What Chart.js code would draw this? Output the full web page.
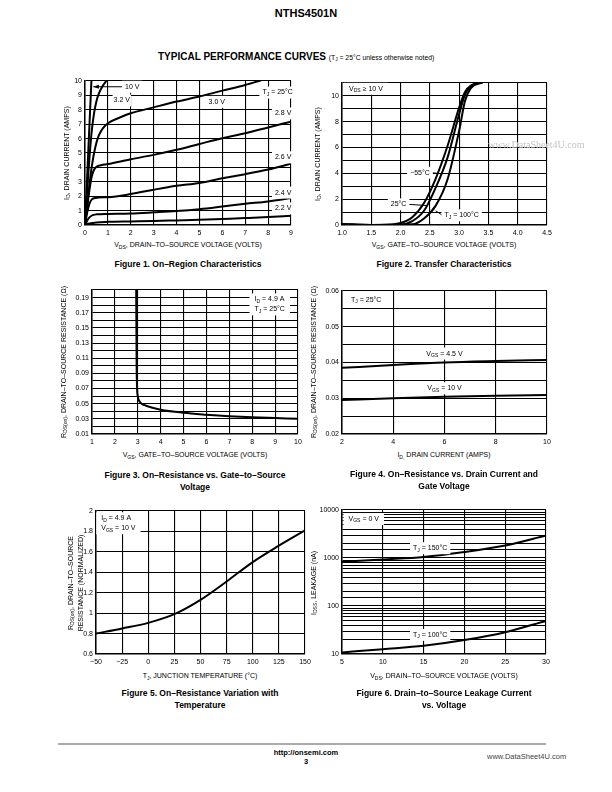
<!DOCTYPE html>
<html>
<head>
<meta charset="utf-8">
<script src="https://cdn.jsdelivr.net/npm/chart.js@4/dist/chart.umd.min.js"></script>
<style>
  body { margin: 0; width: 612px; height: 792px; position: relative; background: #fff; color: #000;
         font-family: "Liberation Sans", Arial, sans-serif; overflow: hidden; }
  .wrap { position: absolute; }
  .t { position: absolute; white-space: nowrap; line-height: 1; }
  .xt { font-size: 7px; transform: translateX(-50%); }
  .yt { font-size: 7px; transform: translate(-50%, -50%) rotate(-90deg); }
  .cap { font-size: 8.5px; font-weight: bold; transform: translateX(-50%); text-align: center; line-height: 12px; }
  sub { font-size: 72%; vertical-align: -0.3em; line-height: 0; }
</style>
</head>
<body>

<div class="t" style="left:306px;top:8px;transform:translateX(-50%);font-size:11px;font-weight:bold;">NTHS4501N</div>
<div class="t" style="left:158px;top:52px;font-size:10px;font-weight:bold;">TYPICAL PERFORMANCE CURVES <span style="font-size:6.8px;font-weight:normal;">(T<sub>J</sub> = 25°C unless otherwise noted)</span></div>

<div class="wrap" id="c1"></div>
<div class="wrap" id="c2"></div>
<div class="wrap" id="c3"></div>
<div class="wrap" id="c4"></div>
<div class="wrap" id="c5"></div>
<div class="wrap" id="c6"></div>

<!-- axis titles -->
<div class="t yt" style="left:66px;top:153px;">I<sub>D</sub>, DRAIN CURRENT (AMPS)</div>
<div class="t xt" style="left:188px;top:241px;">V<sub>DS</sub>, DRAIN–TO–SOURCE VOLTAGE (VOLTS)</div>
<div class="t cap" style="left:188px;top:258px;">Figure 1. On–Region Characteristics</div>

<div class="t yt" style="left:317px;top:154px;">I<sub>D</sub>, DRAIN CURRENT (AMPS)</div>
<div class="t xt" style="left:444px;top:241px;">V<sub>GS</sub>, GATE–TO–SOURCE VOLTAGE (VOLTS)</div>
<div class="t cap" style="left:444px;top:258px;">Figure 2. Transfer Characteristics</div>

<div class="t yt" style="left:63px;top:362px;">R<sub>DS(on)</sub>, DRAIN–TO–SOURCE RESISTANCE (Ω)</div>
<div class="t xt" style="left:195px;top:451px;">V<sub>GS</sub>, GATE–TO–SOURCE VOLTAGE (VOLTS)</div>
<div class="t cap" style="left:195px;top:469px;">Figure 3. On–Resistance vs. Gate–to–Source<br>Voltage</div>

<div class="t yt" style="left:313px;top:362px;">R<sub>DS(on)</sub>, DRAIN–TO–SOURCE RESISTANCE (Ω)</div>
<div class="t xt" style="left:444px;top:451px;">I<sub>D,</sub> DRAIN CURRENT (AMPS)</div>
<div class="t cap" style="left:444px;top:468px;">Figure 4. On–Resistance vs. Drain Current and<br>Gate Voltage</div>

<div class="t yt" style="left:70px;top:583px;">R<sub>DS(on)</sub>, DRAIN–TO–SOURCE</div>
<div class="t yt" style="left:80px;top:583px;">RESISTANCE (NORMALIZED)</div>
<div class="t xt" style="left:200px;top:672px;">T<sub>J</sub>, JUNCTION TEMPERATURE (°C)</div>
<div class="t cap" style="left:200px;top:687px;">Figure 5. On–Resistance Variation with<br>Temperature</div>

<div class="t yt" style="left:313px;top:583px;">I<sub>DSS</sub>, LEAKAGE (nA)</div>
<div class="t xt" style="left:444px;top:672px;">V<sub>DS</sub>, DRAIN–TO–SOURCE VOLTAGE (VOLTS)</div>
<div class="t cap" style="left:444px;top:687px;">Figure 6. Drain–to–Source Leakage Current<br>vs. Voltage</div>

<div class="t" style="left:488px;top:140px;font-size:10px;font-family:'Liberation Serif',serif;color:#c4c4c4;">www.DataSheet4U.com</div>

<!-- footer -->
<div style="position:absolute;left:58px;top:743px;width:488px;height:1.5px;background:#aaa;"></div>
<div class="t" style="left:306px;top:748px;transform:translateX(-50%);font-size:7.5px;font-weight:bold;text-align:center;line-height:9px;">http://onsemi.com<br>3</div>
<div class="t" style="left:487px;top:753px;font-size:7.5px;color:#444;">www.DataSheet4U.com</div>

<script>
// ---- Figure 1: ID vs VDS for several VGS  [VDS, ID]
const id10V  = [[0,0],[0.14,5],[0.28,10]];
const id32V  = [[0,0],[0.1,2.5],[0.2,4.8],[0.3,6.6],[0.4,7.8],[0.5,8.6],[0.6,9.1],[0.75,9.6],[0.95,10.05]];
const id30V  = [[0,0],[0.15,2.2],[0.3,4.1],[0.45,5.4],[0.6,6.2],[0.8,6.75],[1,7.07],[1.5,7.45],[2,7.76],[3,8.17],[4,8.57],[5,8.92],[6,9.33],[7,9.72],[7.7,10.05]];
const id28V  = [[0,0],[0.1,1.3],[0.2,2.5],[0.3,3.4],[0.4,3.85],[0.5,4.05],[0.7,4.15],[1,4.23],[2,4.57],[3,4.87],[4,5.22],[5,5.63],[6,6.03],[7,6.37],[8,6.77],[9,7.18]];
const id26V  = [[0,0],[0.1,0.9],[0.2,1.5],[0.3,1.78],[0.45,1.88],[1,1.93],[2,2.15],[3,2.45],[4,2.72],[5,2.92],[6,3.24],[7,3.53],[8,3.85],[9,4.25]];
const id24V  = [[0,0],[0.15,0.45],[0.3,0.66],[0.5,0.74],[1,0.77],[2,0.8],[3,0.88],[4,0.97],[5,1.1],[6,1.28],[7,1.47],[8,1.64],[9,1.87]];
const id22V  = [[0,0],[0.2,0.1],[0.5,0.18],[1,0.22],[2,0.25],[3,0.28],[4,0.32],[5,0.36],[6,0.42],[7,0.48],[8,0.55],[9,0.65]];

// ---- Figure 2: ID vs VGS at three temperatures  [VGS, ID]
const tfrM55 = [[1.0,0.05],[1.5,0],[1.8,0.02],[2.0,0.15],[2.2,0.6],[2.4,1.7],[2.6,3.6],[2.8,6.1],[3.0,9.1],[3.1,10.3],[3.2,10.8],[3.4,11.05]];
const tfr25  = [[1.0,0.05],[1.5,0],[2.0,0.03],[2.2,0.3],[2.4,1.1],[2.6,2.9],[2.8,5.2],[3.0,8.6],[3.1,10.1],[3.2,10.75],[3.4,11.05]];
const tfr100 = [[1.0,0.05],[1.5,0],[2.2,0.05],[2.4,0.5],[2.6,1.5],[2.8,3.5],[3.0,7.3],[3.1,9.6],[3.2,10.6],[3.4,11.05]];

// ---- Figure 3: RDS(on) vs VGS  [VGS, ohm]
const rdsVgs = [[2.93,0.205],[2.95,0.1],[2.97,0.07],[3.0,0.06],[3.1,0.052],[3.3,0.048],[3.6,0.045],[4,0.042],[5,0.038],[6,0.0355],[7,0.0335],[8,0.032],[9,0.031],[10,0.030]];

// ---- Figure 4: RDS(on) vs ID  [ID, ohm]
const rdsVgs45 = [[2,0.0385],[4,0.0393],[6,0.0400],[8,0.0404],[10,0.0407]];
const rdsVgs10 = [[2,0.0295],[4,0.0300],[6,0.0304],[8,0.0307],[10,0.0309]];

// ---- Figure 5: normalized RDS(on) vs TJ  [degC, ratio]
const rdsTemp = [[-50,0.8],[-25,0.85],[0,0.905],[25,0.99],[50,1.13],[75,1.31],[100,1.5],[125,1.66],[150,1.81]];

// ---- Figure 6: IDSS vs VDS  [V, nA]
const idss150 = [[5,830],[10,930],[15,1050],[20,1330],[25,1820],[30,2950]];
const idss100 = [[5,10.8],[10,12.6],[15,14.8],[20,19.5],[25,28.5],[30,49]];

const FONT = '"Liberation Sans", Arial, sans-serif';

function parseRich(s) {
  const out = [];
  const re = /_\{([^}]*)\}/g;
  let last = 0, m;
  while ((m = re.exec(s))) {
    if (m.index > last) out.push([s.slice(last, m.index), false]);
    out.push([m[1], true]);
    last = re.lastIndex;
  }
  if (last < s.length) out.push([s.slice(last), false]);
  return out;
}

function richWidth(ctx, segs, size) {
  let w = 0;
  segs.forEach(([t, sub]) => {
    ctx.font = (sub ? size * 0.72 : size) + 'px ' + FONT;
    w += ctx.measureText(t).width;
  });
  return w;
}

function drawRich(ctx, segs, x, y, size) {
  let cx = x;
  segs.forEach(([t, sub]) => {
    ctx.font = (sub ? size * 0.72 : size) + 'px ' + FONT;
    ctx.fillText(t, cx, sub ? y + size * 0.3 : y);
    cx += ctx.measureText(t).width;
  });
}

// labels placed in data coordinates, white box behind, optional leader line
const notesPlugin = {
  id: 'notes',
  afterDatasetsDraw(chart, args, opts) {
    const items = opts.items || [];
    const ctx = chart.ctx;
    const xs = chart.scales.x, ys = chart.scales.y;
    items.forEach(n => {
      const size = 7, lh = 10, pad = n.pad == null ? 3 : n.pad;
      const lines = n.text.map(parseRich);
      ctx.save();
      const w = Math.max(...lines.map(l => richWidth(ctx, l, size)));
      const h = lines.length * lh;
      const px = xs.getPixelForValue(n.x), py = ys.getPixelForValue(n.y);
      const left = n.align === 'center' ? px - w / 2 : n.align === 'right' ? px - w : px;
      const top = py - h / 2;
      if (n.leader) {
        const tx = xs.getPixelForValue(n.leader[0]), ty = ys.getPixelForValue(n.leader[1]);
        const sx = tx < left ? left - 2 : left + w + 2;
        ctx.strokeStyle = '#000';
        ctx.lineWidth = 1;
        ctx.beginPath();
        ctx.moveTo(sx, py);
        ctx.lineTo(tx, ty);
        ctx.stroke();
        if (n.arrow) {
          const a = Math.atan2(ty - py, tx - sx);
          ctx.fillStyle = '#000';
          ctx.beginPath();
          ctx.moveTo(tx, ty);
          ctx.lineTo(tx - 6 * Math.cos(a - 0.35), ty - 6 * Math.sin(a - 0.35));
          ctx.lineTo(tx - 6 * Math.cos(a + 0.35), ty - 6 * Math.sin(a + 0.35));
          ctx.closePath();
          ctx.fill();
        }
      }
      ctx.fillStyle = '#fff';
      ctx.fillRect(left - pad, top - 1, w + pad * 2, h + 2);
      ctx.fillStyle = '#000';
      ctx.textBaseline = 'middle';
      lines.forEach((l, i) => drawRich(ctx, l, left, top + lh * i + lh / 2, size));
      ctx.restore();
    });
  }
};

Chart.register(notesPlugin);
Chart.defaults.font.family = FONT;
Chart.defaults.font.size = 7;
Chart.defaults.color = '#000';

function axis(o, isX, fit) {
  return {
    type: o.type || 'linear',
    min: o.min, max: o.max,
    grid: { color: '#000', lineWidth: 1.1, drawTicks: false },
    border: { color: '#000', width: 1.5 },
    ticks: {
      stepSize: o.step, autoSkip: false, maxRotation: 0, padding: isX ? 4 : 3,
      callback: o.label || (v => String(v))
    },
    afterFit: s => { if (isX) s.height = fit; else s.width = fit; }
  };
}

function makeChart(id, box, series, xo, yo, notes) {
  const L = 30, T = 8, R = 12, B = 14;
  const wrap = document.getElementById(id);
  const w = box.r - box.l + L + R, h = box.b - box.t + T + B;
  wrap.style.left = (box.l - L) + 'px';
  wrap.style.top = (box.t - T) + 'px';
  const cv = document.createElement('canvas');
  cv.width = w; cv.height = h;
  cv.style.width = w + 'px'; cv.style.height = h + 'px';
  wrap.appendChild(cv);
  new Chart(cv, {
    type: 'line',
    data: {
      datasets: series.map(s => ({
        data: s.map(p => ({ x: p[0], y: p[1] })),
        borderColor: '#000', borderWidth: 2, pointRadius: 0,
        cubicInterpolationMode: 'monotone', fill: false
      }))
    },
    options: {
      responsive: false, animation: false, devicePixelRatio: 1,
      layout: { padding: { top: T, right: R, left: 0, bottom: 0 } },
      plugins: { legend: { display: false }, tooltip: { enabled: false }, notes: { items: notes } },
      scales: { x: axis(xo, true, B), y: axis(yo, false, L) }
    }
  });
}

const minus = v => (v < 0 ? '−' + Math.abs(v) : String(v));

makeChart('c1', { l: 85, r: 291, t: 81, b: 225 },
  [id10V, id32V, id30V, id28V, id26V, id24V, id22V],
  { min: 0, max: 9, step: 1 },
  { min: 0, max: 10, step: 1 },
  [
    { x: 1.75, y: 9.6, text: ['10 V'], leader: [0.36, 9.6], arrow: true },
    { x: 1.25, y: 8.65, text: ['3.2 V'], pad: 1 },
    { x: 5.4, y: 8.55, text: ['3.0 V'] },
    { x: 7.75, y: 9.2, text: ['T_{J} = 25°C'] },
    { x: 8.3, y: 7.75, text: ['2.8 V'] },
    { x: 8.3, y: 4.7, text: ['2.6 V'] },
    { x: 8.3, y: 2.25, text: ['2.4 V'] },
    { x: 8.3, y: 1.15, text: ['2.2 V'] }
  ]);

makeChart('c2', { l: 342, r: 547, t: 83, b: 225 },
  [tfrM55, tfr25, tfr100],
  { min: 1, max: 4.5, step: 0.5, label: v => v.toFixed(1) },
  { min: 0, max: 11, step: 1, label: v => (v % 2 === 0 && v <= 10 ? String(v) : '') },
  [
    { x: 1.12, y: 10.55, text: ['V_{DS} ≥ 10 V'], pad: 5 },
    { x: 2.5, y: 4.05, text: ['−55°C'], align: 'right', leader: [2.64, 4.0] },
    { x: 2.1, y: 1.6, text: ['25°C'], align: 'right', leader: [2.47, 1.5] },
    { x: 2.75, y: 0.75, text: ['T_{J} = 100°C'], leader: [2.6, 1.1] }
  ]);

makeChart('c3', { l: 92, r: 298, t: 290, b: 434 },
  [rdsVgs],
  { min: 1, max: 10, step: 1 },
  { min: 0.01, max: 0.2, step: 0.01, label: v => (Math.round(v * 100) % 2 === 1 ? v.toFixed(2) : '') },
  [
    { x: 8.1, y: 0.181, text: ['I_{D} = 4.9 A', 'T_{J} = 25°C'], pad: 5 }
  ]);

makeChart('c4', { l: 342, r: 547, t: 291, b: 434 },
  [rdsVgs45, rdsVgs10],
  { min: 2, max: 10, step: 2 },
  { min: 0.02, max: 0.06, step: 0.005, label: v => (Math.round(v * 1000) % 10 === 0 ? v.toFixed(2) : '') },
  [
    { x: 2.35, y: 0.0575, text: ['T_{J} = 25°C'] },
    { x: 6.0, y: 0.0425, text: ['V_{GS} = 4.5 V'], align: 'center' },
    { x: 6.0, y: 0.0328, text: ['V_{GS} = 10 V'], align: 'center' }
  ]);

makeChart('c5', { l: 96, r: 305, t: 511, b: 654 },
  [rdsTemp],
  { min: -50, max: 150, step: 25, label: minus },
  { min: 0.6, max: 2, step: 0.2, label: v => String(Number(v.toFixed(1))) },
  [
    { x: -45, y: 1.88, text: ['I_{D} = 4.9 A', 'V_{GS} = 10 V'], pad: 5 }
  ]);

makeChart('c6', { l: 342, r: 546, t: 510, b: 654 },
  [idss150, idss100],
  { min: 5, max: 30, step: 5 },
  { type: 'logarithmic', min: 10, max: 10000,
    label: v => ([10, 100, 1000, 10000].includes(v) ? String(v) : '') },
  [
    { x: 5.8, y: 6500, text: ['V_{GS} = 0 V'], pad: 5 },
    { x: 15.8, y: 1600, text: ['T_{J} = 150°C'], align: 'center' },
    { x: 15.8, y: 25, text: ['T_{J} = 100°C'], align: 'center' }
  ]);
</script>
</body>
</html>
